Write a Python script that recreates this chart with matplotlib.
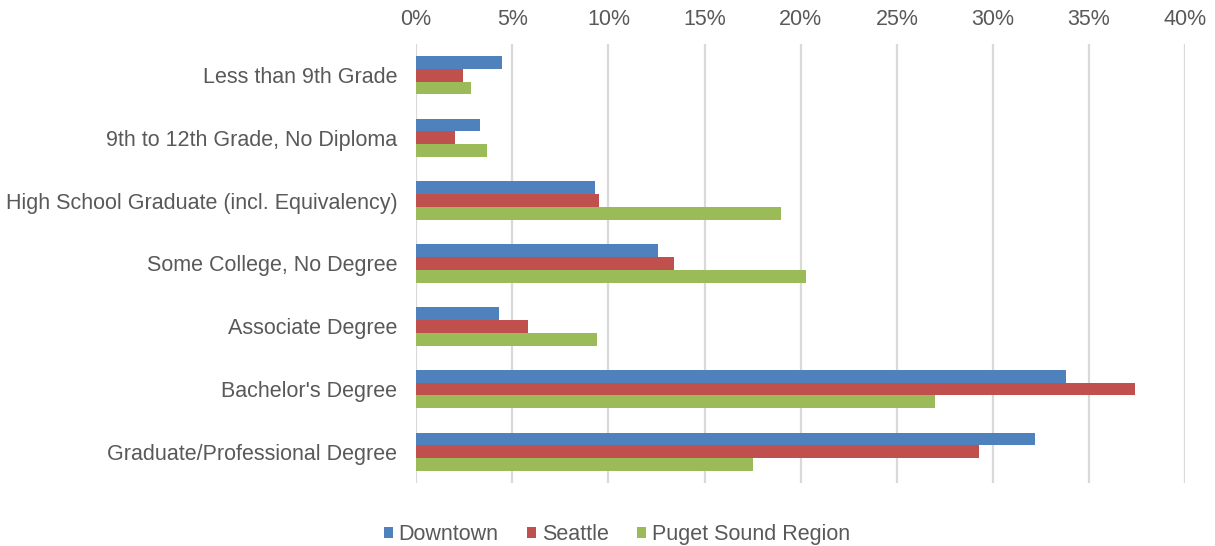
import matplotlib
matplotlib.use("Agg")
import matplotlib.pyplot as plt
import numpy as np
from matplotlib.ticker import FuncFormatter, MultipleLocator

plt.rcParams['font.family'] = ['Liberation Sans', 'DejaVu Sans']

categories = [
    "Less than 9th Grade",
    "9th to 12th Grade, No Diploma",
    "High School Graduate (incl. Equivalency)",
    "Some College, No Degree",
    "Associate Degree",
    "Bachelor's Degree",
    "Graduate/Professional Degree",
]
series_names = ["Downtown", "Seattle", "Puget Sound Region"]
downtown = [4.45, 3.3, 9.3, 12.6, 4.3, 33.8, 32.2]
seattle = [2.45, 2.0, 9.5, 13.4, 5.8, 37.4, 29.3]
puget = [2.85, 3.7, 19.0, 20.3, 9.4, 27.0, 17.5]
colors = ["#4F81BD", "#C0504D", "#9BBB59"]

fig = plt.figure(figsize=(12.15, 5.46), dpi=100)
ax = fig.add_axes([0.3425, 0.115, 0.633, 0.805])

y = np.arange(len(categories))
h = 0.205
for i, (vals, name, c) in enumerate(zip([downtown, seattle, puget], series_names, colors)):
    ax.barh(y + (i - 1) * h, vals, height=h, color=c, label=name, zorder=3)

ax.set_xlim(0, 40)
ax.set_ylim(len(categories) - 0.5, -0.5)
ax.xaxis.set_major_locator(MultipleLocator(5))
ax.xaxis.set_major_formatter(FuncFormatter(lambda v, p: f"{v:.0f}%"))
ax.xaxis.tick_top()
ax.set_yticks(y)
ax.set_yticklabels(categories)
ax.tick_params(axis='both', length=0, labelsize=15.5, labelcolor="#595959")
ax.tick_params(axis='x', pad=10)
ax.tick_params(axis='y', pad=13.5)
ax.grid(axis='x', color="#d9d9d9", linewidth=1.6, zorder=0)
for s in ax.spines.values():
    s.set_visible(False)

leg = fig.legend(loc='lower center', bbox_to_anchor=(0.5075, -0.034), ncol=3, frameon=False,
                 fontsize=15.5, handlelength=0.45, handleheight=0.45, handletextpad=0.25,
                 columnspacing=1.3)
for t in leg.get_texts():
    t.set_color("#595959")

fig.savefig("out.png", dpi=100)
